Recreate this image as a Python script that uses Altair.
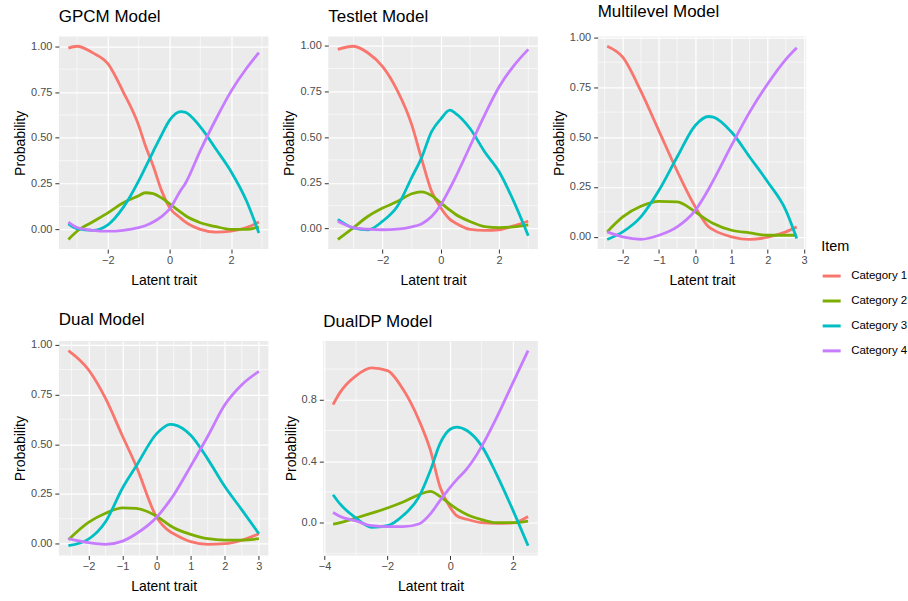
import altair as alt
import pandas as pd

FONT = "Liberation Sans"

CATEGORIES = ["Category 1", "Category 2", "Category 3", "Category 4"]
COLORS = ["#F8766D", "#7CAE00", "#00BFC4", "#C77CFF"]

# GPCM model
GPCM_X = [-3.28, -3.0, -2.5, -2.0, -1.5, -1.0, -0.79, -0.53, -0.26, 0.0, 0.37, 0.5, 1.0, 1.5, 2.0, 2.5, 2.9]
GPCM_C1 = [0.99, 1.0, 0.965, 0.905, 0.75, 0.568, 0.461, 0.347, 0.213, 0.12, 0.06, 0.042, 0.0, -0.015, -0.01, 0.01, 0.04]
GPCM_C2 = [-0.055, -0.01, 0.04, 0.09, 0.145, 0.184, 0.20, 0.195, 0.172, 0.14, 0.093, 0.077, 0.036, 0.015, 0.0, 0.0, 0.013]
GPCM_C3 = [0.03, 0.004, -0.005, 0.025, 0.12, 0.265, 0.336, 0.425, 0.515, 0.595, 0.643, 0.64, 0.56, 0.44, 0.315, 0.155, -0.02]
GPCM_C4 = [0.04, 0.01, -0.005, -0.01, -0.005, 0.01, 0.02, 0.04, 0.07, 0.11, 0.215, 0.247, 0.43, 0.60, 0.755, 0.88, 0.965]

# Testlet model
TESTLET_X = [-3.54, -3.0, -2.5, -2.0, -1.5, -1.0, -0.67, -0.32, 0.0, 0.31, 0.5, 1.0, 1.5, 2.0, 2.5, 3.0]
TESTLET_C1 = [0.98, 0.997, 0.96, 0.885, 0.755, 0.567, 0.385, 0.203, 0.112, 0.05, 0.03, -0.005, -0.01, -0.007, 0.015, 0.04]
TESTLET_C2 = [-0.06, 0.005, 0.067, 0.112, 0.147, 0.19, 0.2, 0.18, 0.14, 0.10, 0.078, 0.038, 0.01, 0.005, 0.009, 0.02]
TESTLET_C3 = [0.05, 0.003, -0.007, 0.04, 0.12, 0.28, 0.385, 0.53, 0.60, 0.647, 0.63, 0.547, 0.42, 0.31, 0.148, -0.04]
TESTLET_C4 = [0.04, 0.005, -0.004, -0.007, -0.004, 0.009, 0.025, 0.065, 0.13, 0.22, 0.28, 0.45, 0.62, 0.775, 0.89, 0.98]

# Multilevel model
MULTI_X = [-2.43, -2.0, -1.5, -1.0, -0.5, 0.0, 0.37, 0.5, 1.0, 1.5, 2.0, 2.5, 2.8]
MULTI_C1 = [0.955, 0.90, 0.73, 0.53, 0.33, 0.15, 0.05, 0.035, 0.0, -0.013, -0.002, 0.025, 0.05]
MULTI_C2 = [0.025, 0.10, 0.153, 0.178, 0.175, 0.125, 0.08, 0.067, 0.033, 0.02, 0.008, 0.008, 0.008]
MULTI_C3 = [-0.013, 0.025, 0.10, 0.233, 0.40, 0.558, 0.603, 0.60, 0.525, 0.40, 0.275, 0.133, -0.008]
MULTI_C4 = [0.025, 0.0, -0.012, 0.008, 0.05, 0.133, 0.24, 0.283, 0.458, 0.625, 0.767, 0.889, 0.947]

# Dual model
DUAL_X = [-2.59, -2.0, -1.5, -1.0, -0.6, 0.0, 0.4, 0.5, 1.0, 1.5, 2.0, 2.5, 3.0]
DUAL_C1 = [0.97, 0.874, 0.73, 0.54, 0.39, 0.133, 0.06, 0.05, 0.01, -0.003, 0.0, 0.018, 0.05]
DUAL_C2 = [0.02, 0.107, 0.153, 0.18, 0.177, 0.138, 0.09, 0.08, 0.047, 0.025, 0.018, 0.018, 0.025]
DUAL_C3 = [-0.01, 0.023, 0.11, 0.28, 0.39, 0.553, 0.60, 0.598, 0.545, 0.425, 0.287, 0.17, 0.05]
DUAL_C4 = [0.025, 0.005, -0.003, 0.013, 0.05, 0.133, 0.22, 0.245, 0.39, 0.54, 0.698, 0.799, 0.866]

# DualDP model
DUALDP_X = [-3.73, -3.5, -3.0, -2.5, -2.0, -1.5, -1.0, -0.63, -0.32, 0.0, 0.21, 0.53, 1.0, 1.47, 2.0, 2.48]
DUALDP_C1 = [0.769, 0.85, 0.956, 1.008, 0.99, 0.868, 0.67, 0.472, 0.23, 0.099, 0.045, 0.022, 0.0, -0.005, -0.002, 0.04]
DUALDP_C2 = [-0.01, 0.0, 0.03, 0.062, 0.095, 0.134, 0.182, 0.204, 0.17, 0.12, 0.09, 0.053, 0.02, 0.0, 0.0, 0.01]
DUALDP_C3 = [0.182, 0.12, 0.03, -0.03, -0.02, 0.046, 0.166, 0.34, 0.516, 0.608, 0.622, 0.60, 0.50, 0.318, 0.08, -0.15]
DUALDP_C4 = [0.066, 0.04, 0.011, -0.02, -0.026, -0.026, -0.009, 0.057, 0.145, 0.23, 0.28, 0.35, 0.495, 0.68, 0.912, 1.12]

PROB_TICKS = [0.0, 0.25, 0.5, 0.75, 1.0]
DUALDP_PROB_TICKS = [0.0, 0.4, 0.8]


def expanded(values, frac=0.05):
    lo, hi = min(values), max(values)
    pad = (hi - lo) * frac
    return [lo - pad, hi + pad]


def minor_breaks(majors, domain):
    step = majors[1] - majors[0]
    cands = [m - step / 2 for m in majors] + [majors[-1] + step / 2]
    return [c for c in cands if domain[0] <= c <= domain[1]]


def panel(title, xs, curves, x_ticks, y_ticks, y_fmt, width=210, height=214):
    rows = []
    for cat, ys in zip(CATEGORIES, curves):
        for x, y in zip(xs, ys):
            rows.append({"theta": x, "prob": y, "Item": cat})
    df = pd.DataFrame(rows)

    x_dom = expanded(xs)
    y_dom = expanded([v for ys in curves for v in ys])
    x_scale = alt.Scale(domain=x_dom, nice=False, zero=False)
    y_scale = alt.Scale(domain=y_dom, nice=False, zero=False)

    # thin minor gridlines halfway between the major breaks
    minor_x = alt.Chart(pd.DataFrame({"theta": minor_breaks(x_ticks, x_dom)})).mark_rule(
        color="white", strokeWidth=0.6
    ).encode(x=alt.X("theta:Q", scale=x_scale))
    minor_y = alt.Chart(pd.DataFrame({"prob": minor_breaks(y_ticks, y_dom)})).mark_rule(
        color="white", strokeWidth=0.6
    ).encode(y=alt.Y("prob:Q", scale=y_scale))

    lines = alt.Chart(df).mark_line(strokeWidth=2.8, interpolate="monotone", clip=True).encode(
        x=alt.X("theta:Q", scale=x_scale,
                axis=alt.Axis(values=x_ticks, format="d", title="Latent trait",
                              grid=True, gridWidth=1.2, labelPadding=1, titlePadding=8)),
        y=alt.Y("prob:Q", scale=y_scale,
                axis=alt.Axis(values=y_ticks, format=y_fmt, title="Probability",
                              grid=True, gridWidth=1.2, labelPadding=3, titlePadding=3)),
        color=alt.Color(
            "Item:N",
            scale=alt.Scale(domain=CATEGORIES, range=COLORS),
            legend=alt.Legend(
                title="Item", orient="none", legendX=764, legendY=204,
                symbolType="stroke", symbolStrokeWidth=3, symbolSize=324,
                labelFontSize=11.5, labelColor="black", labelOffset=9,
                titleFontSize=14.5, titleFontWeight="normal", titleColor="black",
                titlePadding=11, rowPadding=8,
            ),
        ),
        detail="Item:N",
    )

    return alt.layer(minor_x, minor_y, lines).properties(
        width=width, height=height,
        title=alt.TitleParams(title, anchor="start", frame="group", fontSize=17,
                              fontWeight="normal", color="black", offset=10),
    )


gpcm = panel("GPCM Model", GPCM_X, [GPCM_C1, GPCM_C2, GPCM_C3, GPCM_C4], [-2, 0, 2], PROB_TICKS, ".2f", height=213)
testlet = panel("Testlet Model", TESTLET_X, [TESTLET_C1, TESTLET_C2, TESTLET_C3, TESTLET_C4], [-2, 0, 2], PROB_TICKS, ".2f", height=213)
multi = panel("Multilevel Model", MULTI_X, [MULTI_C1, MULTI_C2, MULTI_C3, MULTI_C4], [-2, -1, 0, 1, 2, 3], PROB_TICKS, ".2f", width=209, height=213)
dual = panel("Dual Model", DUAL_X, [DUAL_C1, DUAL_C2, DUAL_C3, DUAL_C4], [-2, -1, 0, 1, 2, 3], PROB_TICKS, ".2f", height=215)
dualdp = panel("DualDP Model", DUALDP_X, [DUALDP_C1, DUALDP_C2, DUALDP_C3, DUALDP_C4], [-4, -2, 0, 2], DUALDP_PROB_TICKS, ".1f", width=215, height=215)

# within a row, panels are placed by their plot areas, so the gaps are plot-to-plot
top_row = alt.hconcat(gpcm, testlet, multi, spacing=60, bounds="flush")
bottom_row = alt.hconcat(dual, dualdp, spacing=55, bounds="flush")

chart = alt.vconcat(top_row, bottom_row, spacing=23).properties(
    padding={"left": 13, "top": 2, "right": 0, "bottom": 0},
    background="white",
).configure(font=FONT).configure_view(
    fill="#EBEBEB", stroke=None
).configure_axis(
    labelFont=FONT, labelFontSize=11, labelColor="#4D4D4D",
    titleFont=FONT, titleFontSize=14, titleFontWeight="normal", titleColor="black",
    tickColor="#333333", tickSize=4, tickWidth=1, domain=False, gridColor="white",
).configure_legend(labelFont=FONT, titleFont=FONT).configure_title(font=FONT)

chart.save("out.html", embed_options={"renderer": "svg", "actions": False})
